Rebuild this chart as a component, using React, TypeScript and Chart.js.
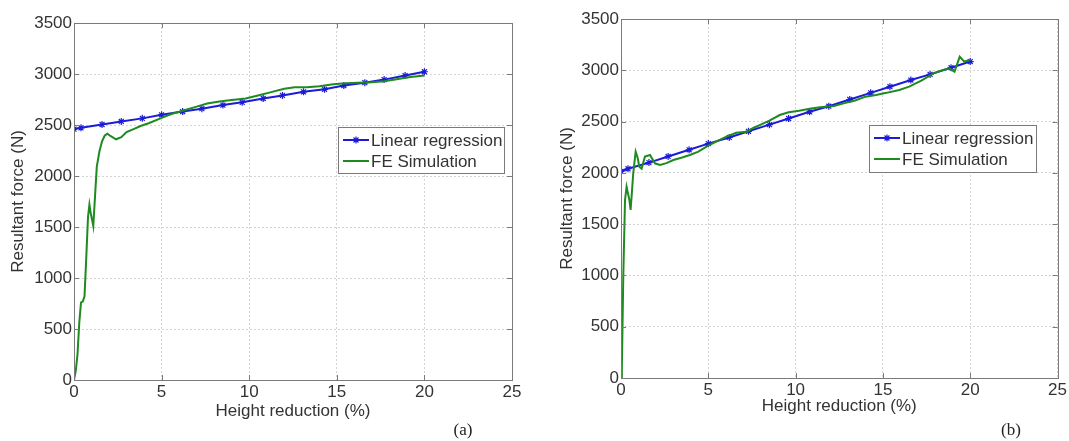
import React, { useEffect, useRef } from 'react';
import { Chart, registerables } from 'chart.js';

Chart.register(...registerables);

const X_TICKS = [0, 5, 10, 15, 20, 25];
const Y_TICKS = [0, 500, 1000, 1500, 2000, 2500, 3000, 3500];
const X_TITLE = 'Height reduction (%)';
const Y_TITLE = 'Resultant force (N)';
const SERIES_NAMES = ['Linear regression', 'FE Simulation'];
const PANEL_LABELS = ['(a)', '(b)'];

// Panel (a)
const regXa = [0, 0.4, 1.6, 2.7, 3.9, 5.0, 6.2, 7.3, 8.5, 9.6, 10.8, 11.9, 13.1, 14.3, 15.4, 16.6, 17.7, 18.9, 20.0];
const regYa = [2460, 2472, 2505, 2535, 2565, 2600, 2632, 2660, 2695, 2722, 2760, 2790, 2825, 2850, 2887, 2915, 2945, 2985, 3022];
const feXa = [0, 0.1, 0.2, 0.3, 0.4, 0.5, 0.6, 0.7, 0.8, 0.88, 0.95, 1.02, 1.1, 1.2, 1.3, 1.45, 1.6, 1.75, 1.9, 2.1, 2.4, 2.7, 3.0, 3.4, 3.8, 4.3, 5.0, 5.6, 6.2, 7.0, 7.6, 8.3, 9.0, 9.8, 10.5, 11.2, 12.0, 12.6, 13.3, 14.0, 14.8, 15.5, 16.2, 17.0, 17.7, 18.5, 19.2, 20.0];
const feYa = [0, 90, 250, 560, 760, 770, 820, 1200, 1600, 1720, 1640, 1580, 1510, 1800, 2090, 2240, 2340, 2395, 2415, 2390, 2360, 2380, 2430, 2460, 2490, 2520, 2570, 2610, 2640, 2680, 2710, 2730, 2745, 2760, 2790, 2820, 2855, 2870, 2870, 2880, 2900, 2910, 2915, 2920, 2930, 2950, 2970, 2985];

// Panel (b)
const regXb = [0, 0.4, 1.6, 2.7, 3.9, 5.0, 6.2, 7.3, 8.5, 9.6, 10.8, 11.9, 13.1, 14.3, 15.4, 16.6, 17.7, 18.9, 20.0];
const regYb = [2015, 2040, 2100, 2160, 2225, 2285, 2345, 2405, 2470, 2530, 2595, 2650, 2715, 2780, 2840, 2905, 2960, 3025, 3085];
const feXb = [0, 0.05, 0.13, 0.23, 0.32, 0.4, 0.48, 0.55, 0.62, 0.7, 0.84, 0.95, 1.05, 1.18, 1.37, 1.66, 1.94, 2.23, 2.6, 3.0, 3.5, 3.94, 4.4, 4.9, 5.5, 6.04, 6.6, 7.2, 7.6, 7.94, 8.5, 9.09, 9.6, 10.2, 10.8, 11.4, 12.2, 12.8, 13.4, 14.0, 14.6, 15.2, 15.94, 16.5, 17.2, 17.9, 18.4, 18.8, 19.1, 19.4, 19.66, 20.0];
const feYb = [0, 100, 988, 1735, 1865, 1800, 1735, 1638, 1800, 1995, 2206, 2150, 2060, 2040, 2158, 2174, 2093, 2077, 2095, 2125, 2150, 2174, 2205, 2255, 2310, 2353, 2390, 2401, 2440, 2466, 2510, 2564, 2590, 2605, 2625, 2640, 2652, 2680, 2705, 2743, 2760, 2780, 2808, 2840, 2900, 2970, 3000, 3019, 2987, 3132, 3085, 3100];

const FONT = '"Liberation Sans", Arial, sans-serif';
const TEXT = '#333333';
const GRID = '#d4d4d4';
const FRAME = '#7a7a7a';
const BLUE = '#1c1cd8';
const GREEN = '#1f8a1f';

type PanelCfg = {
  left: number;
  width: number;
  padding: { left: number; top: number; right: number; bottom: number };
  yWidth: number;
  xHeight: number;
  legend: { x: number; y: number; w: number; h: number };
  regX: number[];
  regY: number[];
  feX: number[];
  feY: number[];
};

const panels: PanelCfg[] = [
  {
    left: 0,
    width: 535,
    padding: { left: 0, top: 23, right: 23, bottom: 19 },
    yWidth: 74,
    xHeight: 42,
    legend: { x: 338, y: 127, w: 166, h: 46 },
    regX: regXa, regY: regYa, feX: feXa, feY: feYa,
  },
  {
    left: 549,
    width: 520,
    padding: { left: 0, top: 19, right: 10, bottom: 24 },
    yWidth: 72,
    xHeight: 39,
    legend: { x: 320, y: 125, w: 167, h: 47 },
    regX: regXb, regY: regYb, feX: feXb, feY: feYb,
  },
];

function drawStar(ctx: CanvasRenderingContext2D, x: number, y: number, r: number) {
  ctx.beginPath();
  ctx.moveTo(x - r, y); ctx.lineTo(x + r, y);
  ctx.moveTo(x, y - r); ctx.lineTo(x, y + r);
  const d = r * 0.7071;
  ctx.moveTo(x - d, y - d); ctx.lineTo(x + d, y + d);
  ctx.moveTo(x - d, y + d); ctx.lineTo(x + d, y - d);
  ctx.stroke();
}

function makeFramePlugin(cfg: PanelCfg) {
  return {
    id: 'frameLegend',
    afterDatasetsDraw(chart: any) {
      const { ctx, chartArea: a, scales } = chart;
      ctx.save();
      ctx.strokeStyle = FRAME;
      ctx.lineWidth = 1;
      ctx.strokeRect(Math.round(a.left) + 0.5, Math.round(a.top) + 0.5, Math.round(a.right - a.left), Math.round(a.bottom - a.top));
      const tl = 5;
      ctx.beginPath();
      X_TICKS.forEach((v) => {
        const px = Math.round(scales.x.getPixelForValue(v)) + 0.5;
        ctx.moveTo(px, a.bottom); ctx.lineTo(px, a.bottom - tl);
        ctx.moveTo(px, a.top); ctx.lineTo(px, a.top + tl);
      });
      Y_TICKS.forEach((v) => {
        const py = Math.round(scales.y.getPixelForValue(v)) + 0.5;
        ctx.moveTo(a.left, py); ctx.lineTo(a.left + tl, py);
        ctx.moveTo(a.right, py); ctx.lineTo(a.right - tl, py);
      });
      ctx.stroke();

      const L = cfg.legend;
      ctx.fillStyle = '#ffffff';
      ctx.fillRect(L.x, L.y, L.w, L.h);
      ctx.strokeStyle = FRAME;
      ctx.strokeRect(L.x + 0.5, L.y + 0.5, L.w, L.h);
      const rows = [L.y + 13, L.y + 34];
      const colors = [BLUE, GREEN];
      ctx.font = `17px ${FONT}`;
      ctx.textBaseline = 'middle';
      ctx.textAlign = 'left';
      SERIES_NAMES.forEach((name, i) => {
        const ry = rows[i];
        ctx.strokeStyle = colors[i];
        ctx.lineWidth = 2;
        ctx.beginPath();
        ctx.moveTo(L.x + 5, ry);
        ctx.lineTo(L.x + 31, ry);
        ctx.stroke();
        if (i === 0) {
          ctx.lineWidth = 1.2;
          drawStar(ctx, L.x + 18, ry, 3.5);
        }
        ctx.fillStyle = TEXT;
        ctx.fillText(name, L.x + 33, ry + 1);
      });
      ctx.restore();
    },
  };
}

function Panel({ cfg }: { cfg: PanelCfg }) {
  const ref = useRef<HTMLCanvasElement | null>(null);
  useEffect(() => {
    if (!ref.current) return;
    const font = { family: FONT, size: 17 };
    const chart = new Chart(ref.current, {
      type: 'line',
      data: {
        datasets: [
          {
            label: SERIES_NAMES[0],
            data: cfg.regX.map((x, i) => ({ x, y: cfg.regY[i] })),
            borderColor: BLUE,
            backgroundColor: BLUE,
            borderWidth: 2,
            pointStyle: 'star',
            pointRadius: 3.5,
            pointBorderWidth: 1.2,
            pointBorderColor: BLUE,
            tension: 0,
            order: 1,
          },
          {
            label: SERIES_NAMES[1],
            data: cfg.feX.map((x, i) => ({ x, y: cfg.feY[i] })),
            borderColor: GREEN,
            backgroundColor: GREEN,
            borderWidth: 2,
            pointRadius: 0,
            tension: 0,
            order: 0,
          },
        ],
      },
      options: {
        responsive: false,
        animation: false,
        devicePixelRatio: 1,
        layout: { padding: cfg.padding },
        plugins: { legend: { display: false }, tooltip: { enabled: false } },
        scales: {
          x: {
            type: 'linear',
            min: X_TICKS[0],
            max: X_TICKS[X_TICKS.length - 1],
            afterBuildTicks: (s: any) => { s.ticks = X_TICKS.map((v) => ({ value: v })); },
            afterFit: (s: any) => { s.height = cfg.xHeight; },
            ticks: { font, color: TEXT, padding: 2, maxRotation: 0, autoSkip: false, callback: (v: any) => String(v) },
            grid: { color: GRID, drawTicks: false, lineWidth: 1 },
            border: { display: false, dash: [2, 2] },
            title: { display: true, text: X_TITLE, font, color: TEXT, padding: 0 },
          },
          y: {
            type: 'linear',
            min: Y_TICKS[0],
            max: Y_TICKS[Y_TICKS.length - 1],
            afterBuildTicks: (s: any) => { s.ticks = Y_TICKS.map((v) => ({ value: v })); },
            afterFit: (s: any) => { s.width = cfg.yWidth; },
            ticks: { font, color: TEXT, padding: 2, autoSkip: false, callback: (v: any) => String(v) },
            grid: { color: GRID, drawTicks: false, lineWidth: 1 },
            border: { display: false, dash: [2, 2] },
            title: { display: true, text: Y_TITLE, font, color: TEXT, padding: { top: 8, bottom: 0 } },
          },
        },
      },
      plugins: [makeFramePlugin(cfg)],
    } as any);
    return () => chart.destroy();
  }, [cfg]);
  return (
    <canvas
      ref={ref}
      width={cfg.width}
      height={441}
      style={{ position: 'absolute', left: cfg.left, top: 0, width: cfg.width, height: 441 }}
    />
  );
}

export default function App() {
  const labelStyle: React.CSSProperties = {
    position: 'absolute',
    top: 420,
    width: 40,
    textAlign: 'center',
    fontFamily: '"Liberation Serif", "Times New Roman", serif',
    fontSize: 17,
    lineHeight: '20px',
    color: '#222',
  };
  return (
    <div style={{ position: 'fixed', left: 0, top: 0, width: 1069, height: 441, overflow: 'hidden', background: '#fff' }}>
      {panels.map((p, i) => (
        <Panel key={i} cfg={p} />
      ))}
      <div style={{ ...labelStyle, left: 443 }}>{PANEL_LABELS[0]}</div>
      <div style={{ ...labelStyle, left: 991 }}>{PANEL_LABELS[1]}</div>
    </div>
  );
}
